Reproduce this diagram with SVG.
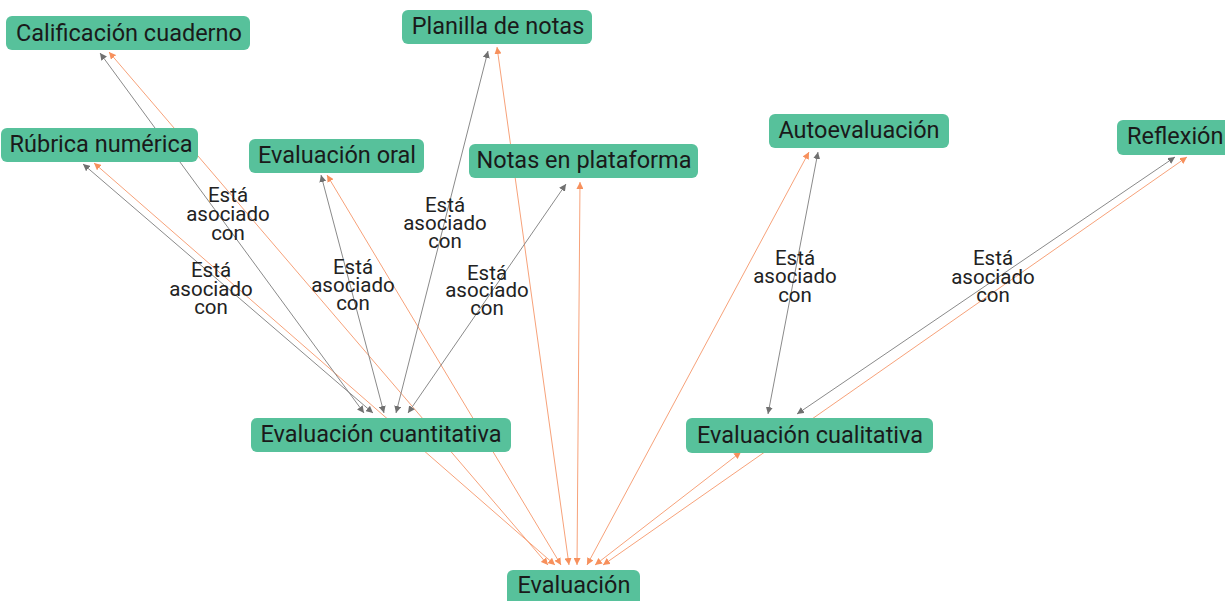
<svg xmlns="http://www.w3.org/2000/svg" width="1225" height="601" viewBox="0 0 1225 601">
<style>
.node rect{fill:#57c19b;}
.node text{font-family:Roboto,"Liberation Sans",sans-serif;font-size:23.5px;fill:#1a1a1a;text-anchor:middle;dominant-baseline:central;}
.g{stroke:#8a8a8a;stroke-width:1;fill:none;marker-start:url(#ag);marker-end:url(#ag);}
.o{stroke:#f7a27a;stroke-width:1;fill:none;marker-start:url(#ao);marker-end:url(#ao);}
.lbl{font-family:Roboto,"Liberation Sans",sans-serif;font-size:20.5px;fill:#222;text-anchor:middle;dominant-baseline:central;}
</style>
<defs>
<marker id="ag" viewBox="0 0 10 10" refX="10" refY="5" markerWidth="7" markerHeight="7" markerUnits="userSpaceOnUse" orient="auto-start-reverse"><path d="M0,0L10,5L0,10z" fill="#707070"/></marker>
<marker id="ao" viewBox="0 0 10 10" refX="10" refY="5" markerWidth="7" markerHeight="7" markerUnits="userSpaceOnUse" orient="auto-start-reverse"><path d="M0,0L10,5L0,10z" fill="#f7905c"/></marker>
</defs>
<g id="connectors">
<line class="o" x1="548" y1="565" x2="109" y2="52"/>
<line class="o" x1="555" y1="565" x2="94" y2="163"/>
<line class="o" x1="561" y1="565" x2="327" y2="175"/>
<line class="o" x1="569" y1="565" x2="497" y2="47"/>
<line class="o" x1="577" y1="565" x2="580" y2="182"/>
<line class="o" x1="587" y1="565" x2="809" y2="152"/>
<line class="o" x1="595" y1="565" x2="741" y2="452"/>
<line class="o" x1="603" y1="565" x2="1187" y2="157"/>
<line class="g" x1="364" y1="413" x2="100" y2="53"/>
<line class="g" x1="373" y1="413" x2="83" y2="164"/>
<line class="g" x1="384" y1="413" x2="321" y2="175"/>
<line class="g" x1="396" y1="413" x2="488" y2="51"/>
<line class="g" x1="408" y1="413" x2="566" y2="184"/>
<line class="g" x1="768" y1="414" x2="818" y2="152"/>
<line class="g" x1="797" y1="414" x2="1175" y2="157"/>
<text class="lbl"><tspan x="228" y="195">Está</tspan><tspan x="228" y="214">asociado</tspan><tspan x="228" y="233">con</tspan></text>
<text class="lbl"><tspan x="211" y="270">Está</tspan><tspan x="211" y="289">asociado</tspan><tspan x="211" y="307">con</tspan></text>
<text class="lbl"><tspan x="353" y="267">Está</tspan><tspan x="353" y="285">asociado</tspan><tspan x="353" y="303">con</tspan></text>
<text class="lbl"><tspan x="445" y="205">Está</tspan><tspan x="445" y="223">asociado</tspan><tspan x="445" y="241">con</tspan></text>
<text class="lbl"><tspan x="487" y="273">Está</tspan><tspan x="487" y="290">asociado</tspan><tspan x="487" y="308">con</tspan></text>
<text class="lbl"><tspan x="795" y="258">Está</tspan><tspan x="795" y="276">asociado</tspan><tspan x="795" y="295">con</tspan></text>
<text class="lbl"><tspan x="993" y="258">Está</tspan><tspan x="993" y="277">asociado</tspan><tspan x="993" y="295">con</tspan></text>
</g>
<g id="n-calificacion" class="node"><rect x="6" y="16" width="244" height="34" rx="6"/><text x="129" y="33">Calificación cuaderno</text></g>
<g id="n-planilla" class="node"><rect x="402" y="10" width="190" height="34" rx="6"/><text x="498" y="26">Planilla de notas</text></g>
<g id="n-rubrica" class="node"><rect x="1" y="128" width="197" height="34" rx="6"/><text x="101" y="144">Rúbrica numérica</text></g>
<g id="n-oral" class="node"><rect x="249" y="139" width="175" height="34" rx="6"/><text x="337" y="155">Evaluación oral</text></g>
<g id="n-notas" class="node"><rect x="469" y="144" width="229" height="34" rx="6"/><text x="584" y="160">Notas en plataforma</text></g>
<g id="n-auto" class="node"><rect x="769" y="114" width="180" height="34" rx="6"/><text x="859" y="130">Autoevaluación</text></g>
<g id="n-reflexion" class="node"><rect x="1117" y="120" width="120" height="35" rx="6"/><text x="1127" y="136" style="text-anchor:start">Reflexión</text></g>
<g id="n-cuanti" class="node"><rect x="251" y="418" width="260" height="34" rx="6"/><text x="381" y="434">Evaluación cuantitativa</text></g>
<g id="n-cuali" class="node"><rect x="686" y="418" width="247" height="35" rx="6"/><text x="810" y="435">Evaluación cualitativa</text></g>
<g id="n-evaluacion" class="node"><rect x="507" y="570" width="133" height="36" rx="6"/><text x="574" y="585">Evaluación</text></g>
</svg>
